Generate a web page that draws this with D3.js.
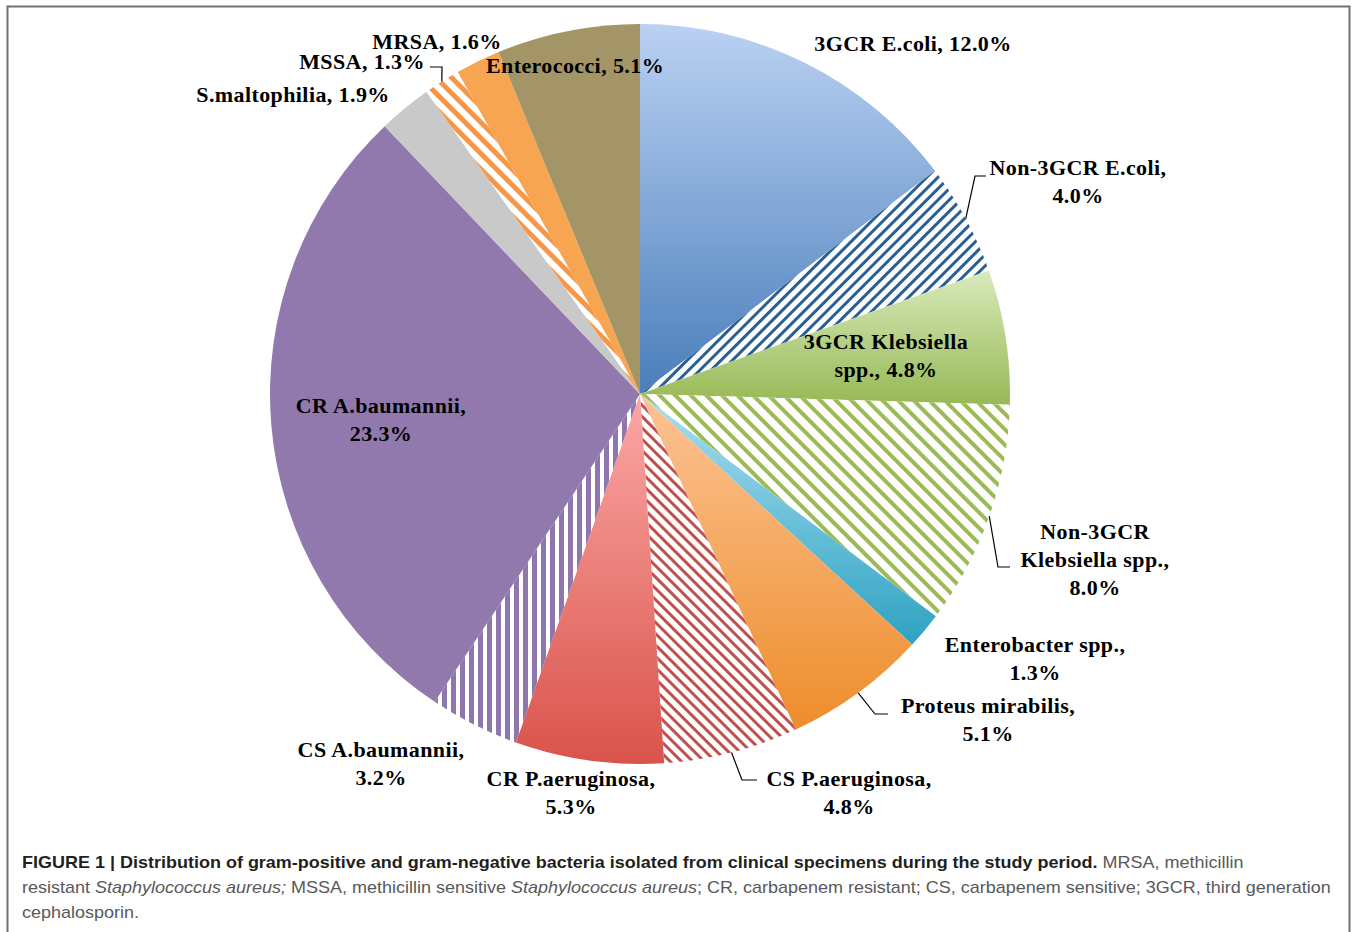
<!DOCTYPE html>
<html>
<head>
<meta charset="utf-8">
<script src="https://cdn.jsdelivr.net/npm/d3@7"></script>
<style>
  body { margin: 0; background: #fff; }
  svg { display: block; }
</style>
</head>
<body>
<div id="chart"></div>
<script>
// data
const names = ["3GCR E.coli", "Non-3GCR E.coli", "3GCR Klebsiella spp.", "Non-3GCR Klebsiella spp.",
  "Enterobacter spp.", "Proteus mirabilis", "CS P.aeruginosa", "CR P.aeruginosa",
  "CS A.baumannii", "CR A.baumannii", "S.maltophilia", "MSSA", "MRSA", "Enterococci"];
const values = [12.0, 4.0, 4.8, 8.0, 1.3, 5.1, 4.8, 5.3, 3.2, 23.3, 1.9, 1.3, 1.6, 5.1];
const labelLines = [
  ["3GCR E.coli, 12.0%"],
  ["Non-3GCR E.coli,", "4.0%"],
  ["3GCR Klebsiella", "spp., 4.8%"],
  ["Non-3GCR", "Klebsiella spp.,", "8.0%"],
  ["Enterobacter spp.,", "1.3%"],
  ["Proteus mirabilis,", "5.1%"],
  ["CS P.aeruginosa,", "4.8%"],
  ["CR P.aeruginosa,", "5.3%"],
  ["CS A.baumannii,", "3.2%"],
  ["CR A.baumannii,", "23.3%"],
  ["S.maltophilia, 1.9%"],
  ["MSSA, 1.3%"],
  ["MRSA, 1.6%"],
  ["Enterococci, 5.1%"]
];

// fill styles: gradient [top, bottom], solid colour, or stripes
const fills = [
  { type: "grad", c: ["#bad1f2", "#4a7ebb"] },
  { type: "hatch", c: "#2b5e91", angle: 45, period: 8, w: 3 },
  { type: "grad", c: ["#d9eabd", "#97b955"] },
  { type: "hatch", c: "#9bbb59", angle: -45, period: 11, w: 4 },
  { type: "grad", c: ["#aadff1", "#2ea2c2"] },
  { type: "grad", c: ["#fcc394", "#ee8d2b"] },
  { type: "hatch", c: "#c0504d", angle: -45, period: 8, w: 3 },
  { type: "grad", c: ["#fca8a6", "#d9534b"] },
  { type: "hatch", c: "#8f77ae", angle: 0, period: 9, w: 5 },
  { type: "solid", c: "#9179ae" },
  { type: "solid", c: "#c9c9c9" },
  { type: "hatch", c: "#f79646", angle: -45, period: 11, w: 5 },
  { type: "solid", c: "#f8a552" },
  { type: "solid", c: "#a39566" }
];

// label placement (centre x, first line centre y) and leader elbows
const labelPos = [
  [913, 44], [1078, 168], [886, 342], [1095, 532], [1035, 645], [988, 706],
  [849, 779], [571, 779], [381, 750], [381, 406], [293, 95], [362, 62], [437, 42], [575, 66]
];
const leaders = {
  1: [[975, 176], [986, 176]],
  3: [[998, 567], [1010, 567]],
  5: [[875, 714], [888, 714]],
  6: [[742, 780], [757, 780]],
  11: [[442, 67], [430, 67]]
};

const width = 1357, height = 932;
const cx = 640, cy = 394, radius = 370;

const svg = d3.select("#chart").append("svg")
  .attr("width", width)
  .attr("height", height);

// frame
svg.append("rect")
  .attr("x", 7.5).attr("y", 6.5)
  .attr("width", 1342).attr("height", 960)
  .attr("fill", "none")
  .attr("stroke", "#707070")
  .attr("stroke-width", 2);

const defs = svg.append("defs");
fills.forEach((f, i) => {
  if (f.type === "grad") {
    const g = defs.append("linearGradient")
      .attr("id", "fill" + i)
      .attr("x1", 0).attr("y1", 0).attr("x2", 0).attr("y2", 1);
    g.append("stop").attr("offset", "0%").attr("stop-color", f.c[0]);
    g.append("stop").attr("offset", "100%").attr("stop-color", f.c[1]);
  } else if (f.type === "hatch") {
    const p = defs.append("pattern")
      .attr("id", "fill" + i)
      .attr("patternUnits", "userSpaceOnUse")
      .attr("width", f.period).attr("height", f.period)
      .attr("patternTransform", `rotate(${f.angle})`);
    p.append("rect").attr("width", f.period).attr("height", f.period).attr("fill", "#fff");
    p.append("rect").attr("width", f.w).attr("height", f.period).attr("fill", f.c);
  }
});

const pie = d3.pie().sort(null).value(d => d);
const arcs = pie(values);
const arcGen = d3.arc().innerRadius(0).outerRadius(radius);

const g = svg.append("g").attr("transform", `translate(${cx},${cy})`);

g.selectAll("path.slice")
  .data(arcs)
  .enter()
  .append("path")
  .attr("class", "slice")
  .attr("d", arcGen)
  .attr("fill", (d, i) => fills[i].type === "solid" ? fills[i].c : `url(#fill${i})`);

// leader lines from slice mid-angle on the rim
Object.keys(leaders).forEach(k => {
  const a = arcs[k];
  const mid = (a.startAngle + a.endAngle) / 2;
  const start = [cx + radius * Math.sin(mid), cy - radius * Math.cos(mid)];
  const pts = [start].concat(leaders[k]);
  svg.append("path")
    .attr("d", d3.line()(pts))
    .attr("fill", "none")
    .attr("stroke", "#000")
    .attr("stroke-width", 1.2);
});

// data labels
const labels = svg.append("g")
  .attr("font-family", "'Liberation Serif', 'Times New Roman', serif")
  .attr("font-weight", "bold")
  .attr("font-size", 22)
  .attr("letter-spacing", 0.4)
  .attr("fill", "#000")
  .attr("text-anchor", "middle");

labelLines.forEach((lines, i) => {
  const t = labels.append("text");
  lines.forEach((ln, j) => {
    t.append("tspan")
      .attr("x", labelPos[i][0])
      .attr("y", labelPos[i][1] + 7 + j * 28)
      .text(ln);
  });
});

// caption
const cap = svg.append("g")
  .attr("font-family", "'Liberation Sans', Arial, sans-serif")
  .attr("font-size", 17)
  .attr("fill", "#58595b");

const capLines = [
  [["FIGURE 1 | Distribution of gram-positive and gram-negative bacteria isolated from clinical specimens during the study period.", "b"], [" MRSA, methicillin", ""]],
  [["resistant ", ""], ["Staphylococcus aureus;", "i"], [" MSSA, methicillin sensitive ", ""], ["Staphylococcus aureus", "i"], ["; CR, carbapenem resistant; CS, carbapenem sensitive; 3GCR, third generation", ""]],
  [["cephalosporin.", ""]]
];

const capTexts = capLines.map(parts => {
  const t = cap.append("text").attr("x", 0).attr("y", 0);
  parts.forEach(p => {
    const s = t.append("tspan").text(p[0]);
    if (p[1] === "b") s.attr("font-weight", "bold").attr("fill", "#231f20");
    if (p[1] === "i") s.attr("font-style", "italic");
  });
  return t;
});
// one horizontal squeeze for all lines, set by the second (full) line
const sx = 1309 / capTexts[1].node().getComputedTextLength();
capTexts.forEach((t, i) => {
  t.attr("transform", `translate(22,${868 + i * 25}) scale(${sx},1)`);
});
</script>
</body>
</html>
